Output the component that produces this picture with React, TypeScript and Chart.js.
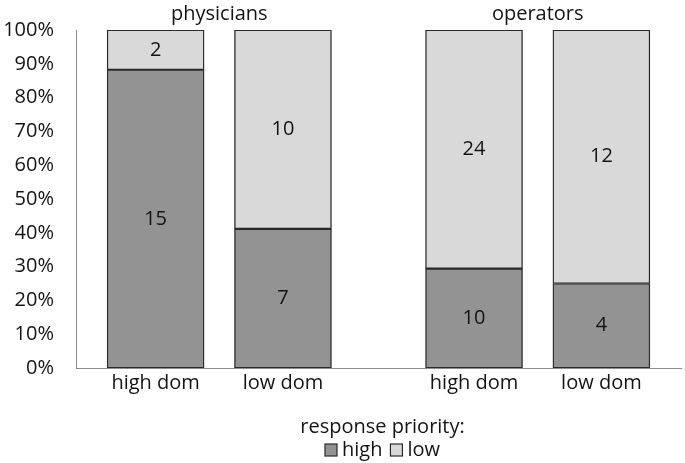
import React, { useEffect, useRef } from "react";
import { Chart, registerables } from "chart.js";

Chart.register(...registerables);

const groups = ["physicians", "operators"];
const categories = ["high dom", "low dom", "high dom", "low dom"];
const categoryGroup = [0, 0, 1, 1];
const highCounts = [15, 7, 10, 4];
const lowCounts = [2, 10, 24, 12];
const seriesNames = ["high", "low"];
const legendTitle = "response priority:";
const yTickStep = 10;

// layout: slot grid so that the gap between the groups is wider
const SLOT_COUNT = 19;
const SLOT_OF = [2, 6, 12, 16];

const FONT = "'Open Sans', Lato, sans-serif";
const FS = 20;
const TEXT = "#141414";

export default function App() {
  const ref = useRef<HTMLCanvasElement>(null);

  useEffect(() => {
    const labels: string[] = Array(SLOT_COUNT).fill("");
    const highPct: (number | null)[] = Array(SLOT_COUNT).fill(null);
    const lowPct: (number | null)[] = Array(SLOT_COUNT).fill(null);
    const highTxt: (number | null)[] = Array(SLOT_COUNT).fill(null);
    const lowTxt: (number | null)[] = Array(SLOT_COUNT).fill(null);
    categories.forEach((c, i) => {
      const s = SLOT_OF[i];
      const tot = highCounts[i] + lowCounts[i];
      labels[s] = c;
      highPct[s] = (highCounts[i] / tot) * 100;
      lowPct[s] = (lowCounts[i] / tot) * 100;
      highTxt[s] = highCounts[i];
      lowTxt[s] = lowCounts[i];
    });
    const counts = [highTxt, lowTxt];

    const labelPlugin = {
      id: "barLabels",
      afterDatasetsDraw(chart: any) {
        const ctx = chart.ctx;
        const ca = chart.chartArea;
        ctx.save();
        ctx.font = `${FS}px ${FONT}`;
        ctx.fillStyle = TEXT;
        ctx.textAlign = "center";
        ctx.textBaseline = "middle";
        chart.data.datasets.forEach((ds: any, di: number) => {
          const meta = chart.getDatasetMeta(di);
          meta.data.forEach((el: any, idx: number) => {
            const v = counts[di][idx];
            if (v == null) return;
            ctx.fillText(String(v), el.x, (el.y + el.base) / 2);
          });
        });
        const meta0 = chart.getDatasetMeta(0);
        groups.forEach((g, gi) => {
          const xs = categories
            .map((_, i) => i)
            .filter((i) => categoryGroup[i] === gi)
            .map((i) => meta0.data[SLOT_OF[i]].x);
          const x = xs.reduce((a, b) => a + b, 0) / xs.length;
          ctx.textBaseline = "alphabetic";
          ctx.fillText(g, x, ca.top - 10);
        });

        // legend
        const cx = (ca.left + ca.right) / 2 + 4;
        ctx.textBaseline = "middle";
        ctx.textAlign = "center";
        ctx.fillText(legendTitle, cx, ca.bottom + 59);
        const box = 12;
        const gapText = 5;
        const gapItem = 8;
        const widths = chart.data.datasets.map(
          (ds: any) => box + gapText + ctx.measureText(ds.label).width
        );
        const total = widths.reduce((a: number, b: number) => a + b, 0) + gapItem * (widths.length - 1);
        let x = cx - total / 2;
        const yRow = ca.bottom + 82;
        ctx.textAlign = "left";
        chart.data.datasets.forEach((ds: any, di: number) => {
          ctx.fillStyle = ds.backgroundColor;
          ctx.fillRect(x, yRow - box / 2, box, box);
          ctx.strokeStyle = ds.borderColor;
          ctx.lineWidth = 1.2;
          ctx.strokeRect(x, yRow - box / 2, box, box);
          ctx.fillStyle = TEXT;
          ctx.fillText(ds.label, x + box + gapText, yRow);
          x += widths[di] + gapItem;
        });
        ctx.restore();
      },
    };

    const chart = new Chart(ref.current!, {
      type: "bar",
      data: {
        labels,
        datasets: [
          {
            label: seriesNames[0],
            data: highPct,
            backgroundColor: "#939393",
            borderColor: "#2a2a2a",
            borderWidth: 1.4,
            borderSkipped: false,
            barThickness: 97,
          },
          {
            label: seriesNames[1],
            data: lowPct,
            backgroundColor: "#d9d9d9",
            borderColor: "#2a2a2a",
            borderWidth: 1.4,
            borderSkipped: false,
            barThickness: 97,
          },
        ],
      },
      options: {
        animation: false,
        responsive: false,
        layout: { padding: { top: 30, right: 4, left: 0, bottom: 47 } },
        plugins: {
          tooltip: { enabled: false },
          legend: { display: false },
        },
        scales: {
          x: {
            stacked: true,
            grid: { display: false, drawTicks: false },
            border: { display: true, color: "#8c8c8c", width: 1 },
            ticks: {
              autoSkip: false,
              maxRotation: 0,
              minRotation: 0,
              color: TEXT,
              font: { family: FONT, size: FS },
              padding: 3,
            },
            afterFit: (s: any) => {
              s.height = 48;
            },
          },
          y: {
            stacked: true,
            min: 0,
            max: 100,
            grid: { display: false, drawTicks: false },
            border: { display: true, color: "#8c8c8c", width: 1 },
            ticks: {
              stepSize: yTickStep,
              color: TEXT,
              font: { family: FONT, size: FS },
              padding: 22,
              callback: (v: any) => `${v}%`,
            },
            afterFit: (s: any) => {
              s.width = 76;
              s.paddingTop = 0;
              s.paddingBottom = 0;
            },
          },
        },
      },
      plugins: [labelPlugin],
    });
    return () => chart.destroy();
  }, []);

  return (
    <div style={{ position: "fixed", left: 0, top: 0, width: 685, height: 463, background: "#fff" }}>
      <canvas ref={ref} width={685} height={463} />
    </div>
  );
}
